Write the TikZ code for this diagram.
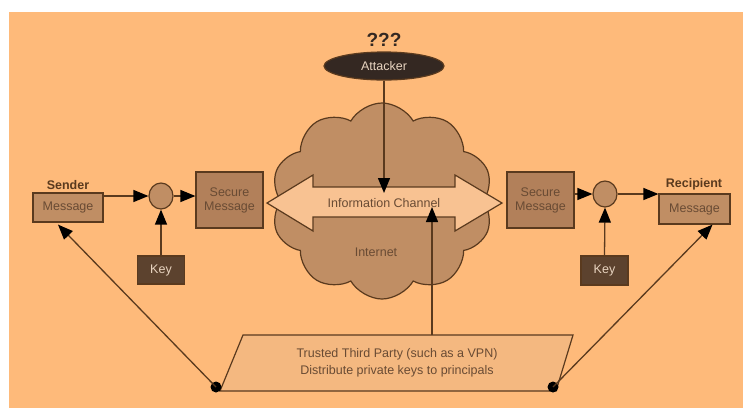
\documentclass[tikz,border=0pt]{standalone}
\usepackage{fontspec}
\setmainfont{Liberation Sans}
\usetikzlibrary{shapes.symbols,shapes.geometric,arrows.meta,calc}
\definecolor{bgor}{RGB}{254,186,122}
\definecolor{edge}{RGB}{90,58,30}
\definecolor{boxf}{RGB}{192,142,100}
\definecolor{secf}{RGB}{178,128,90}
\definecolor{txt}{RGB}{105,75,52}
\definecolor{keyf}{RGB}{92,66,46}
\definecolor{keyt}{RGB}{232,212,192}
\definecolor{attf}{RGB}{52,40,34}
\definecolor{arrf}{RGB}{248,194,146}
\definecolor{ttpf}{RGB}{244,184,128}
\begin{document}
\begin{tikzpicture}[x=1pt,y=-1pt,
  every node/.style={font=\fontsize{12.5}{14}\selectfont},
  box/.style={draw=edge,line width=1.2pt,fill=boxf,text=txt,inner sep=0pt,align=center},
  knot/.style={draw=edge,line width=1.2pt,fill=boxf,ellipse,minimum width=24pt,minimum height=26pt,inner sep=0pt},
  conn/.style={draw=edge,line width=1.3pt,-{Triangle[length=15pt,width=12pt,fill=black,color=black]}},
  lbl/.style={font=\bfseries\fontsize{12.5}{14}\selectfont,text=edge}]
\useasboundingbox (0,0) rectangle (743,408);
\fill[white] (0,0) rectangle (743,408);
\fill[bgor] (9,12) rectangle (743,408);
% cloud
\node[cloud,cloud puffs=10,cloud puff arc=120,aspect=1.1,draw=edge,line width=1.2pt,fill=boxf,
  minimum width=222pt,minimum height=196pt,inner sep=0pt] (cloud) at (382,201) {};
% double arrow
\path[draw=edge,line width=1.2pt,fill=arrf] (267,203) -- (313,175) -- (313,187) -- (455,187) -- (455,175)
  -- (502,203) -- (455,231) -- (455,217) -- (313,217) -- (313,231) -- cycle;
\node[text=txt] (chan) at (384,203) {Information Channel};
\node[text=txt] (inet) at (376,252) {Internet};
% attacker
\node[lbl,font=\bfseries\fontsize{19}{21}\selectfont,text=attf] (qqq) at (384,40) {???};
\node[ellipse,fill=attf,draw=edge,line width=1.2pt,minimum width=120pt,minimum height=28pt,inner sep=0pt,text=keyt] (att) at (384,66) {Attacker};
\coordinate (atip) at (384,193);
\draw[conn] (att.south) -- (atip);
% left side
\node[box,minimum width=70pt,minimum height=29pt] (msgL) at (68,207.5) {Message};
\node[lbl] (sender) at (68,185) {Sender};
\node[knot] (cL) at (161,196) {};
\node[box,fill=secf,minimum width=67pt,minimum height=56pt] (secL) at (229.5,200) {Secure\\Message};
\node[box,fill=keyf,text=keyt,minimum width=47pt,minimum height=28pt] (keyL) at (161,270) {Key};
\draw[conn] (cL.west -| msgL.east) -- (cL.west);
\draw[conn] (cL.east) -- (cL.east -| secL.west);
\draw[conn] (keyL.north) -- (cL.south);
% right side
\node[box,fill=secf,minimum width=67pt,minimum height=56pt] (secR) at (540.5,200) {Secure\\Message};
\node[knot] (cR) at (605,194) {};
\node[box,fill=keyf,text=keyt,minimum width=47pt,minimum height=29pt] (keyR) at (604.5,270.5) {Key};
\node[box,minimum width=71pt,minimum height=30pt] (msgR) at (694.5,209) {Message};
\node[lbl] (recip) at (694,184) {Recipient};
\draw[conn] (cR.west -| secR.east) -- (cR.west);
\draw[conn] (cR.east) -- (cR.east -| msgR.west);
\draw[conn] (keyR.north) -- (cR.south);
% trusted third party
\path[draw=edge,line width=1.2pt,fill=ttpf] (243,335) -- (573,335) -- (556,391) -- (220,391) -- cycle;
\node[text=txt,align=center,font=\fontsize{12.5}{17}\selectfont] (ttp) at (397,363) {Trusted Third Party (such as a VPN)\\Distribute private keys to principals};
\coordinate (ttptop) at (432,335);
\coordinate (ttptip) at (432,207);
\draw[conn] (ttptop) -- (ttptip);
\fill[black] (216,387) circle (5.5pt) coordinate (dL);
\fill[black] (553,387) circle (5.5pt) coordinate (dR);
\draw[conn] (dL) -- ($(msgL.south)+(-10,2)$);
\draw[conn] (dR) -- ($(msgR.south)+(18,0)$);
\end{tikzpicture}
\end{document}
